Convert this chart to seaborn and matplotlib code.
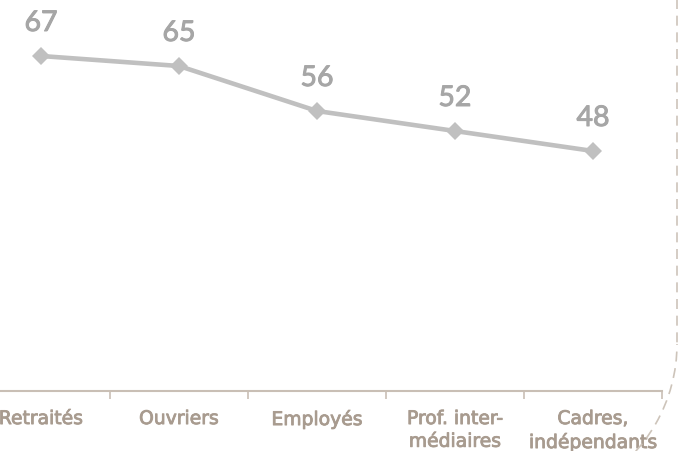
import numpy as np
import pandas as pd
import matplotlib.pyplot as plt
import matplotlib.patches as mpatches
import matplotlib.patheffects as pe
from matplotlib.lines import Line2D
import seaborn as sns


# -----------------------------
# DATA
# -----------------------------
categories = ["Retraités", "Ouvriers", "Employés", "Prof. inter-\nmédiaires", "Cadres,\nindépendants"]
values = [67, 65, 56, 52, 48]

df = pd.DataFrame({"x": range(len(categories)), "value": values})


# -----------------------------
# STYLE
# -----------------------------
sns.set_style("white")
plt.rcParams["font.family"] = ["DejaVu Sans"]

line_color = "#c0c0c0"
label_color = "#a6a6a6"
axis_color = "#c9bfb5"
tick_text_color = "#a89b8f"


# -----------------------------
# PLOT
# -----------------------------
fig = plt.figure(figsize=(6.78, 4.52), dpi=100)
ax = fig.add_axes([-28 / 678, 60 / 452, 690 / 678, 392 / 452])

sns.lineplot(
    data=df,
    x="x",
    y="value",
    ax=ax,
    color=line_color,
    linewidth=3.3,
    marker="D",
    markersize=9,
    markeredgewidth=0,
    markerfacecolor=line_color,
)

for xi, v in zip(df["x"], df["value"]):
    ax.annotate(
        str(v),
        (xi, v),
        xytext=(0, 18),
        textcoords="offset points",
        ha="center",
        va="baseline",
        fontsize=20.5,
        family=["Lato", "DejaVu Sans"],
        color=label_color,
        path_effects=[pe.withStroke(linewidth=0.7, foreground=label_color)],
    )

ax.set_xlim(-0.5, len(categories) - 0.5)
ax.set_ylim(0, 78.4)

ax.set_xticks(range(len(categories)))
ax.set_xticklabels(categories, color=tick_text_color, fontsize=13.5, linespacing=1.25)
for lbl in ax.get_xticklabels():
    lbl.set_path_effects([pe.withStroke(linewidth=0.6, foreground=tick_text_color)])
ax.set_xticks(np.arange(0.5, len(categories), 1), minor=True)
ax.tick_params(axis="x", which="major", bottom=True, length=0, pad=13)
ax.tick_params(axis="x", which="minor", bottom=True, length=6, width=1.2,
               color=axis_color, direction="out")
ax.set_yticks([])
ax.set_xlabel("")
ax.set_ylabel("")

for side in ["top", "left", "right"]:
    ax.spines[side].set_visible(False)
ax.spines["bottom"].set_color(axis_color)
ax.spines["bottom"].set_linewidth(1.5)

# dashed frame at the right edge with rounded corner
frame_kw = dict(color="#cdc4ba", linewidth=1.2, linestyle=(0, (6, 4)))
fig.add_artist(Line2D([677, 677], [452, 107], transform=None, **frame_kw))
fig.add_artist(mpatches.Arc((517, 107), 320, 320, theta1=-60, theta2=0,
                            transform=None, fill=False, **frame_kw))

plt.savefig("out.png", dpi=100)
